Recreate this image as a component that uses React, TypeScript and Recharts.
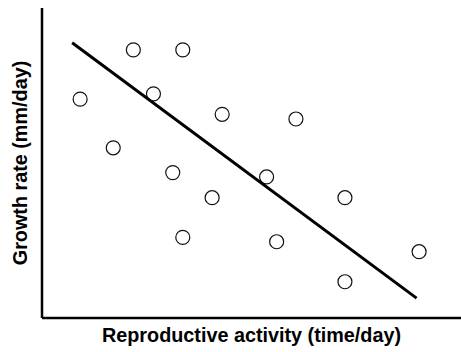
import { ScatterChart, Scatter, XAxis, YAxis } from 'recharts';

const activity = [0.91, 2.18, 3.36, 2.66, 1.7, 4.3, 6.06, 3.12, 5.36, 4.06, 7.23, 3.36, 5.6, 9.0, 7.23];
const growth = [7.06, 8.65, 8.65, 7.23, 5.49, 6.57, 6.42, 4.69, 4.55, 3.88, 3.88, 2.6, 2.46, 2.14, 1.17];

// Fitted trend line end points
const trendX = [0.72, 8.94];
const trendY = [8.88, 0.64];

const points = activity.map((x, i) => ({ x, y: growth[i] }));
const trend = trendX.map((x, i) => ({ x, y: trendY[i] }));

const font = 'Arial, "Liberation Sans", sans-serif';

const OpenCircle = (props: any) => (
  <circle cx={props.cx} cy={props.cy} r={7} fill="#fff" stroke="#111" strokeWidth={1.2} />
);

export default function App() {
  return (
    <div style={{ position: 'absolute', left: 0, top: 0, background: '#fff' }}>
      <ScatterChart width={461} height={352} margin={{ top: 8, right: 0, left: 0, bottom: 0 }}>
        <XAxis
          type="number"
          dataKey="x"
          domain={[0, 10]}
          allowDataOverflow
          height={34}
          tick={false}
          tickLine={false}
          axisLine={{ stroke: '#000', strokeWidth: 2.5 }}
          label={{
            value: 'Reproductive activity (time/day)',
            position: 'center',
            style: { fontFamily: font, fontWeight: 'bold', fontSize: 19.8, fill: '#000' },
          }}
        />
        <YAxis
          type="number"
          dataKey="y"
          domain={[0, 10]}
          allowDataOverflow
          width={42}
          tick={false}
          tickLine={false}
          axisLine={{ stroke: '#000', strokeWidth: 2.5 }}
          label={{
            value: 'Growth rate (mm/day)',
            position: 'center',
            angle: -90,
            dx: -1,
            style: { fontFamily: font, fontWeight: 'bold', fontSize: 19.8, fill: '#000', textAnchor: 'middle' },
          }}
        />
        <Scatter data={points} shape={OpenCircle} isAnimationActive={false} />
        <Scatter
          data={trend}
          line={{ stroke: '#000', strokeWidth: 3 }}
          shape={() => null}
          isAnimationActive={false}
        />
      </ScatterChart>
    </div>
  );
}
